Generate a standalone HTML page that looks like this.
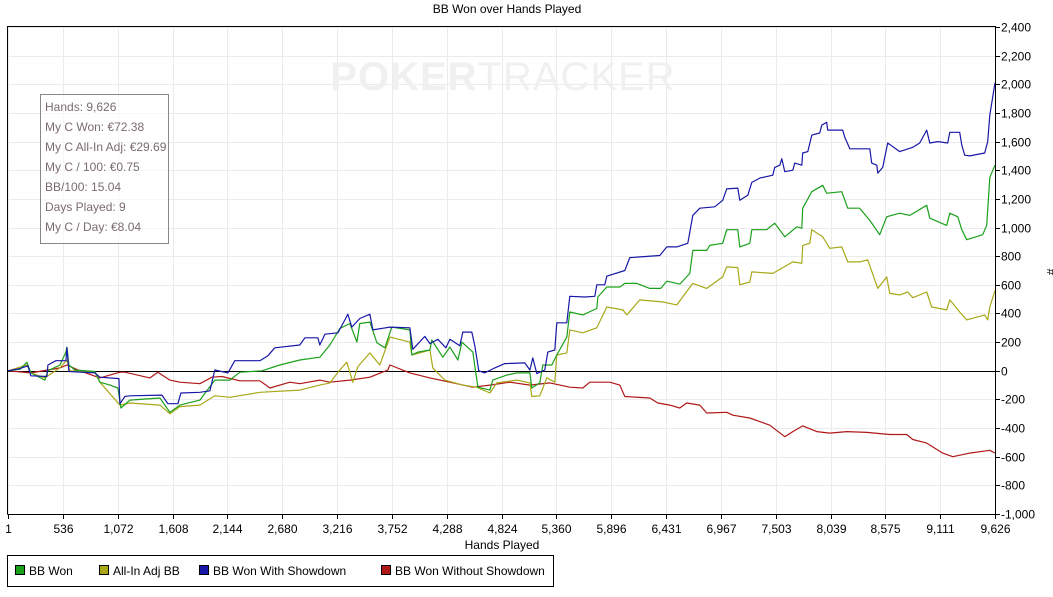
<!DOCTYPE html>
<html><head><meta charset="utf-8"><style>
body{margin:0;background:#fff;}
svg{display:block;font-family:"Liberation Sans",Arial,sans-serif;}
</style></head><body>
<svg id="chart" width="1053" height="597" xmlns="http://www.w3.org/2000/svg">
<rect width="1053" height="597" fill="#fff"/>
<text x="507" y="13" font-size="12" text-anchor="middle" fill="#000">BB Won over Hands Played</text>
<g id="grid"></g>
<text x="503" y="90" font-size="40" text-anchor="middle" fill="#f0f0f0" letter-spacing="1"><tspan font-weight="bold">POKER</tspan><tspan>TRACKER</tspan></text>
<g id="series"></g>
<g id="axes"></g>
<g>
<rect x="40.5" y="94.5" width="128" height="149" fill="#fff" fill-opacity="0.6" stroke="#888"/>
<g font-size="12" fill="#7a6b6e">
<text x="45" y="111">Hands: 9,626</text>
<text x="45" y="131">My C Won: €72.38</text>
<text x="45" y="151">My C All-In Adj: €29.69</text>
<text x="45" y="171">My C / 100: €0.75</text>
<text x="45" y="191">BB/100: 15.04</text>
<text x="45" y="211">Days Played: 9</text>
<text x="45" y="231">My C / Day: €8.04</text>
</g></g>
<text x="502" y="549" font-size="12" text-anchor="middle">Hands Played</text>
<text x="1047" y="272" font-size="12" text-anchor="middle" transform="rotate(90 1047 272)">#</text>
<g>
<rect x="7.5" y="555.5" width="546" height="31" fill="#fff" stroke="#000"/>
<g><rect x="15.5" y="565.5" width="9" height="9" fill="#1aa01a" stroke="#000"/><text x="29" y="575" font-size="12">BB Won</text></g>
<g><rect x="99.5" y="565.5" width="9" height="9" fill="#a8a818" stroke="#000"/><text x="113" y="575" font-size="12">All-In Adj BB</text></g>
<g><rect x="199.5" y="565.5" width="9" height="9" fill="#1818a8" stroke="#000"/><text x="213" y="575" font-size="12">BB Won With Showdown</text></g>
<g><rect x="381.5" y="565.5" width="9" height="9" fill="#b01818" stroke="#000"/><text x="395" y="575" font-size="12">BB Won Without Showdown</text></g>
</g>
</svg>
<script>
const xTickLabels=["1","536","1,072","1,608","2,144","2,680","3,216","3,752","4,288","4,824","5,360","5,896","6,431","6,967","7,503","8,039","8,575","9,111","9,626"];
const yTicks=[-1000,-800,-600,-400,-200,0,200,400,600,800,1000,1200,1400,1600,1800,2000,2200,2400];
const blueData=[[1,0],[117,15],[195,35],[224,-35],[380,-40],[390,40],[468,70],[566,70],[575,160],[595,-5],[848,-15],[897,-45],[1082,-55],[1092,-230],[1141,-180],[1190,-175],[1502,-170],[1560,-230],[1658,-230],[1687,-155],[1872,-150],[1970,-140],[2018,5],[2145,-15],[2213,70],[2457,70],[2535,105],[2603,160],[2847,180],[2896,230],[3023,230],[3042,180],[3091,255],[3218,265],[3286,355],[3315,395],[3354,305],[3432,365],[3530,395],[3559,285],[3725,305],[3920,300],[3949,150],[4066,240],[4115,190],[4193,220],[4271,160],[4310,220],[4407,175],[4436,270],[4524,270],[4553,175],[4592,0],[4651,-15],[4748,20],[4846,50],[5041,55],[5090,5],[5119,90],[5158,-20],[5236,5],[5265,130],[5333,145],[5353,335],[5450,335],[5480,520],[5626,515],[5723,520],[5743,600],[5821,600],[5840,660],[6016,700],[6065,790],[6357,805],[6425,865],[6523,865],[6630,890],[6679,1085],[6747,1135],[6893,1145],[6971,1190],[7010,1270],[7118,1275],[7137,1190],[7215,1225],[7254,1315],[7332,1345],[7459,1365],[7478,1420],[7527,1435],[7547,1480],[7576,1390],[7654,1400],[7673,1450],[7742,1435],[7751,1520],[7800,1530],[7839,1645],[7917,1660],[7937,1715],[7985,1735],[7995,1680],[8141,1680],[8161,1630],[8210,1550],[8405,1550],[8424,1450],[8473,1435],[8483,1380],[8531,1420],[8580,1590],[8697,1530],[8824,1560],[8892,1590],[8960,1680],[8990,1590],[9068,1600],[9165,1590],[9185,1665],[9282,1665],[9302,1575],[9331,1505],[9380,1500],[9526,1520],[9555,1600],[9575,1785],[9626,2010]];
const greenData=[[1,0],[117,10],[185,60],[224,-15],[361,-65],[390,0],[507,40],[566,130],[575,165],[595,40],[653,5],[848,-5],[897,-80],[995,-100],[1073,-120],[1102,-260],[1190,-205],[1482,-190],[1580,-290],[1677,-240],[1872,-205],[2018,-65],[2165,-65],[2262,-10],[2477,0],[2652,40],[2847,75],[3042,95],[3140,180],[3237,295],[3335,330],[3403,200],[3432,330],[3530,340],[3598,195],[3676,160],[3744,305],[3920,285],[3939,110],[3998,130],[4115,145],[4134,215],[4241,95],[4310,165],[4388,75],[4427,200],[4534,130],[4583,-115],[4700,-135],[4729,-65],[4865,-30],[4963,-15],[5090,-15],[5109,-120],[5187,-85],[5216,40],[5304,40],[5353,110],[5450,235],[5480,410],[5606,390],[5743,435],[5753,515],[5840,585],[5967,585],[6016,610],[6133,610],[6260,575],[6367,575],[6425,625],[6552,605],[6650,680],[6679,840],[6815,840],[6845,875],[6971,890],[7010,985],[7118,985],[7137,865],[7235,890],[7254,985],[7400,985],[7478,1030],[7576,935],[7693,1005],[7742,995],[7751,1135],[7839,1250],[7946,1295],[7985,1240],[8132,1250],[8190,1135],[8307,1135],[8405,1050],[8502,950],[8570,1075],[8697,1100],[8795,1085],[8960,1155],[8990,1065],[9155,1015],[9185,1100],[9263,1075],[9302,985],[9350,915],[9506,950],[9545,1015],[9575,1350],[9626,1435]];
const yellowData=[[1,0],[185,40],[224,-15],[361,-50],[507,20],[575,75],[605,0],[848,-10],[897,-80],[1092,-240],[1190,-225],[1482,-240],[1580,-300],[1677,-250],[1872,-240],[2018,-175],[2165,-185],[2457,-150],[2847,-135],[3042,-100],[3140,-85],[3237,5],[3305,60],[3364,-80],[3413,30],[3530,125],[3627,40],[3725,235],[3920,200],[3939,110],[4115,145],[4144,20],[4261,-65],[4436,-100],[4573,-115],[4700,-155],[4768,-85],[4963,-65],[5090,-85],[5109,-180],[5187,-175],[5255,-50],[5333,-80],[5353,110],[5450,125],[5480,285],[5606,265],[5743,300],[5840,445],[5996,425],[6035,390],[6162,495],[6387,480],[6523,460],[6679,610],[6815,575],[6971,655],[7010,725],[7118,720],[7137,600],[7235,620],[7254,690],[7459,680],[7654,760],[7742,750],[7751,875],[7820,890],[7839,985],[7946,935],[8015,855],[8132,865],[8190,760],[8307,760],[8385,775],[8483,575],[8570,655],[8600,540],[8697,530],[8775,550],[8824,510],[8960,550],[9009,445],[9155,425],[9185,495],[9282,410],[9350,355],[9526,390],[9555,355],[9575,445],[9626,560]];
const redData=[[1,0],[224,-15],[507,20],[575,40],[702,0],[897,-50],[1092,-10],[1141,-10],[1385,-50],[1463,-10],[1580,-65],[1677,-80],[1872,-90],[1989,-45],[2087,-40],[2262,-70],[2457,-70],[2555,-120],[2750,-80],[2847,-90],[3042,-65],[3140,-80],[3335,-65],[3530,-45],[3705,5],[3725,40],[3920,-15],[4115,-50],[4310,-80],[4534,-115],[4700,-100],[4895,-80],[5090,-100],[5285,-85],[5480,-115],[5606,-120],[5675,-80],[5870,-80],[5967,-100],[6016,-180],[6260,-190],[6338,-225],[6455,-240],[6552,-260],[6620,-225],[6747,-240],[6815,-295],[7010,-290],[7069,-310],[7235,-330],[7430,-380],[7576,-460],[7654,-425],[7751,-385],[7888,-425],[8015,-435],[8180,-425],[8375,-430],[8600,-445],[8765,-445],[8824,-480],[8960,-505],[9116,-575],[9214,-600],[9380,-575],[9575,-555],[9626,-575]];

const NS="http://www.w3.org/2000/svg";
const X0=8,X1=995,Y0=514,Y1=27,HMIN=1,HMAX=9626,VMIN=-1000,VMAX=2400;
function xs(h){return X0+(h-HMIN)/(HMAX-HMIN)*(X1-X0);}
function ys(v){return Y0-(v-VMIN)/(VMAX-VMIN)*(Y0-Y1);}
function mk(tag,attrs,parent){const e=document.createElementNS(NS,tag);for(const k in attrs)e.setAttribute(k,attrs[k]);parent.appendChild(e);return e;}
const grid=document.getElementById('grid'),axes=document.getElementById('axes'),ser=document.getElementById('series');
const nX=xTickLabels.length;
xTickLabels.forEach((lab,i)=>{
  const x=Math.round(X0+i*(X1-X0)/(nX-1))+0.5;
  const g=mk('line',{x1:x,x2:x,y1:Y1,y2:Y0,stroke:'#ebebeb'},grid);
  
  
  const t=mk('line',{x1:x,x2:x,y1:Y0,y2:Y0+5,stroke:'#000'},axes);
  
  
  const tx=mk('text',{x:x,y:Y0+19,'font-size':12,'text-anchor':'middle'},axes);
  tx.textContent=lab;
  
  
});
yTicks.forEach(v=>{
  const y=Math.round(ys(v))+0.5;
  const g=mk('line',{x1:X0,x2:X1,y1:y,y2:y,stroke:v===0?'#000':'#ebebeb'},grid);
  
  
  const t=mk('line',{x1:X1,x2:X1+5,y1:y,y2:y,stroke:'#000'},axes);
  
  
  const tx=mk('text',{x:X1+6,y:y+4,'font-size':12},axes);
  tx.textContent=v.toLocaleString('en-US');
  
  
});
const fr=mk('path',{d:`M${X0-0.5},${Y0+0.5}V${Y1-0.5}H${X1+0.5}V${Y0+0.5}H${X0-0.5}`,fill:'none',stroke:'#000'},axes);


const seriesList=[[redData,'#b01818','line-bb-won-without-showdown'],[yellowData,'#a8a818','line-all-in-adj-bb'],[greenData,'#1aa01a','line-bb-won'],[blueData,'#1818a8','line-bb-won-with-showdown']];
seriesList.forEach(([d,c,n])=>{
  const p=mk('polyline',{points:d.map(q=>xs(q[0]).toFixed(1)+','+ys(q[1]).toFixed(1)).join(' '),fill:'none',stroke:c,'stroke-width':1.2,'stroke-linejoin':'round'},ser);
  
  
});
</script>
</body></html>
